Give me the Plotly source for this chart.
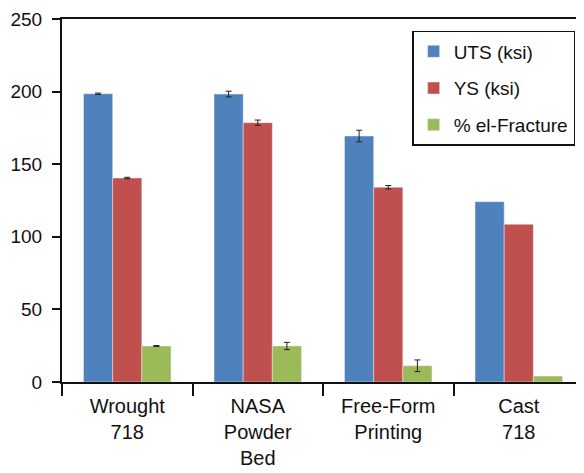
import plotly.graph_objects as go

categories = ["Wrought<br>718", "NASA<br>Powder<br>Bed", "Free-Form<br>Printing", "Cast<br>718"]
uts = [198.5, 198.3, 169.4, 124.2]
uts_err = [0.5, 2.0, 4.0, "NaN"]   # no error bar shown for Cast
ys = [140.5, 178.6, 134.1, 108.6]
ys_err = [0.5, 1.8, 1.2, "NaN"]
el = [24.8, 24.8, 11.2, 4.1]
el_err = [0.3, 2.5, 4.0, "NaN"]
y_ticks = [0, 50, 100, 150, 200, 250]

FONT = "Liberation Sans, Arial, sans-serif"

def eb(vals):
    return dict(type="data", array=vals, visible=True, color="#222222", thickness=1, width=3)

fig = go.Figure()
fig.add_trace(go.Bar(name="UTS (ksi)", x=categories, y=uts, marker_color="#4F81BD",
                     error_y=eb(uts_err), legendgroup="a"))
fig.add_trace(go.Bar(name="YS (ksi)", x=categories, y=ys, marker_color="#C0504D",
                     error_y=eb(ys_err), legendgroup="b"))
fig.add_trace(go.Bar(name="% el-Fracture", x=categories, y=el, marker_color="#9BBB59",
                     error_y=eb(el_err), legendgroup="c"))

fig.update_layout(
    width=576, height=465,
    margin=dict(l=54, r=0, t=11, b=91),
    paper_bgcolor="white", plot_bgcolor="white",
    barmode="group", bargap=0.33, bargroupgap=0,
    font=dict(family=FONT, size=19, color="#111111"),
    legend=dict(x=0.983, xanchor="right", y=0.967, yanchor="top",
                bordercolor="#111111", borderwidth=1.5, bgcolor="white",
                font=dict(size=19), tracegroupgap=9, traceorder="grouped"),
    showlegend=True,
)
fig.update_xaxes(showline=True, linecolor="#111111", linewidth=2, mirror=True,
                 ticks="outside", tickson="boundaries", ticklen=12, tickwidth=1.5,
                 tickcolor="#111111", tickfont=dict(size=20), showgrid=False,
                 automargin=False, ticklabelstandoff=5)
fig.update_yaxes(range=[0, 250], tickvals=y_ticks, showline=True, linecolor="#111111",
                 linewidth=2, ticks="outside", ticklen=8, tickwidth=1.5, tickcolor="#111111",
                 tickfont=dict(size=19), showgrid=False, zeroline=False,
                 automargin=False, ticklabelstandoff=6)

fig.write_html("out.html")
